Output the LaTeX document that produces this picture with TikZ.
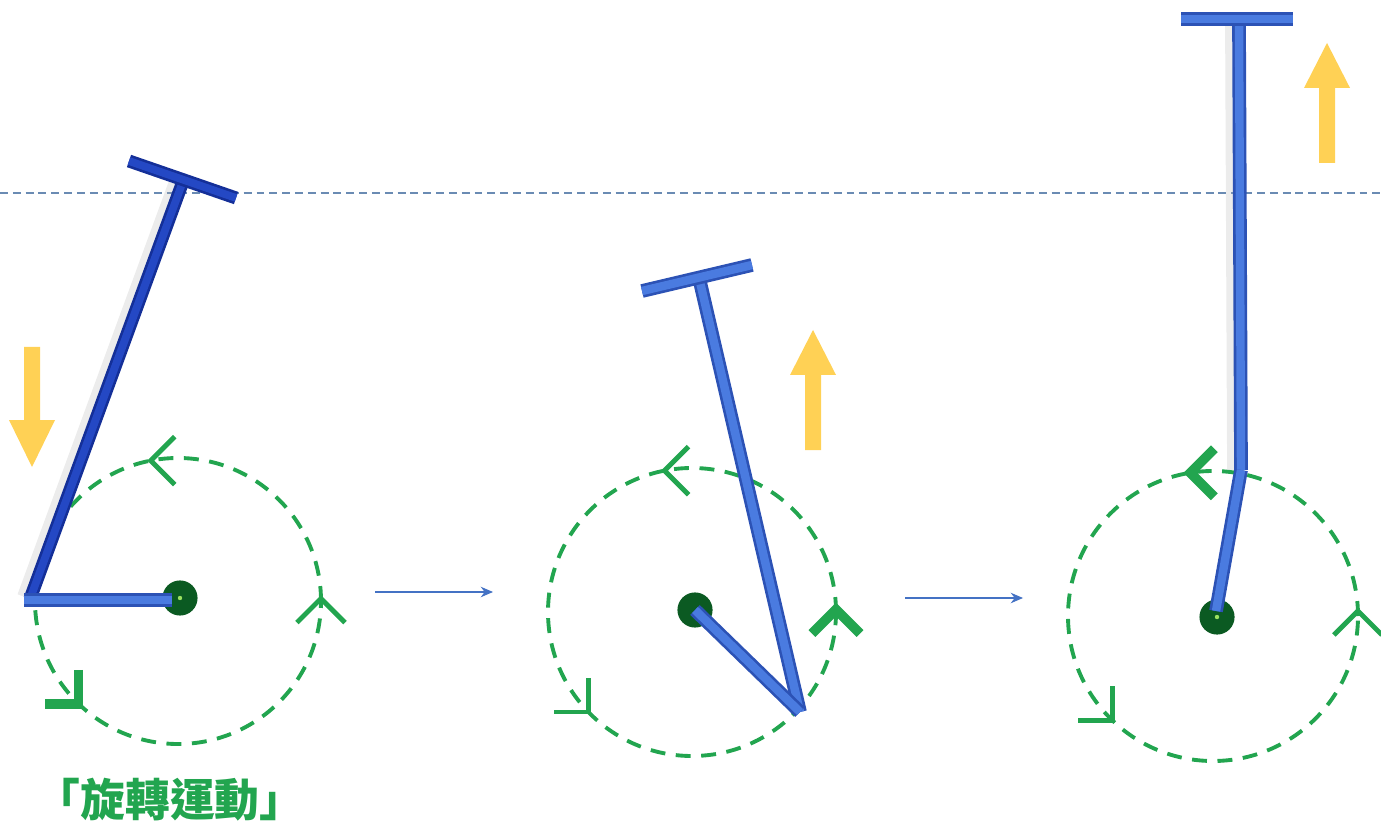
\documentclass[tikz,border=0pt]{standalone}
\usepackage{fontspec}
\newfontfamily\cjk{Noto Sans CJK TC}
\usetikzlibrary{calc,arrows.meta}
\definecolor{wgreen}{HTML}{22A54F}
\definecolor{pgreen}{HTML}{0B5A22}
\definecolor{dotgreen}{HTML}{9BE060}
\definecolor{ylw}{HTML}{FFD155}
\definecolor{barlight}{HTML}{4A7BE0}
\definecolor{baredge}{HTML}{2C52B5}
\definecolor{rodlight}{HTML}{2448C4}
\definecolor{rodedge}{HTML}{142F98}
\definecolor{connblue}{HTML}{4472C4}
\definecolor{hline}{HTML}{6A8BB3}
\tikzset{
  wheel/.style={draw=wgreen, line width=2.2pt, dash pattern=on 8.5pt off 6pt},
  chev/.style={draw=wgreen, line width=2.8pt, line join=miter, line cap=butt},
  chevbold/.style={draw=wgreen, line width=5.5pt, line join=miter, line cap=butt},
  pivot/.style={circle, fill=pgreen, inner sep=0pt, minimum size=20pt},
  cdot/.style={circle, fill=dotgreen, inner sep=0pt, minimum size=2.5pt},
  lightbar/.style={draw=baredge, double=barlight, line width=1.5pt, double distance=4.8pt},
  darkbar/.style={draw=rodedge, double=rodlight, line width=1.5pt, double distance=4.4pt},
  shadowbar/.style={draw=black!30, line width=9pt, opacity=0.25},
  conn/.style={draw=connblue, line width=0.8pt, -{Stealth[length=7pt,width=6pt]}},
  yarrow/.style={fill=ylw},
  guide/.style={draw=hline, line width=0.7pt, dash pattern=on 4.5pt off 2.8pt},
  label/.style={text=wgreen, font=\cjk\bfseries\fontsize{25.5}{28}\selectfont}
}
% chevron on circle: #1 center, #2 radius, #3 angle, #4 pointing direction, #5 style
\newcommand\chev[5]{%
  \draw[#5] ($(#1)+(#3:#2)+(#4+135:34)$) -- ($(#1)+(#3:#2)$) -- ($(#1)+(#3:#2)+(#4+225:34)$);}
% yellow block arrow: #1 x, #2 tail y, #3 head base y, #4 tip y
\newcommand\yarr[4]{%
  \fill[yarrow] (#1-8,#2) -- (#1-8,#3) -- (#1-23,#3) -- (#1,#4) -- (#1+23,#3) -- (#1+8,#3) -- (#1+8,#2) -- cycle;}
\begin{document}
\begin{tikzpicture}[x=0.02cm,y=0.02cm]
\useasboundingbox (0,0) rectangle (1381,822);
% guide line
\coordinate (gl) at (0,629);
\coordinate (gr) at (1381,629);
\draw[guide] (gl) -- (gr);

% ---------- figure 1 ----------
\coordinate (c1) at (178,221);
\draw[wheel] (c1) circle[radius=143];
\chev{c1}{143}{101}{180}{chev}
\chev{c1}{143}{1}{90}{chev}
\chev{c1}{143}{226}{315}{chevbold}
\node[pivot] (p1) at (180,224) {};
\node[cdot] at (p1) {};
\coordinate (a1) at (30,223);
\coordinate (b1) at (182,638);
\coordinate (t1l) at (129,661);
\coordinate (t1r) at (236,624);
\draw[shadowbar] ($(a1)+(-5,2)$) -- ($(b1)+(-5,2)$);
\draw[darkbar] (a1) -- (b1);
\draw[darkbar] (t1l) -- (t1r);
\draw[lightbar] (24,222) -- (172,222);
\yarr{32}{475}{402}{355}

% ---------- figure 2 ----------
\coordinate (c2) at (692,210);
\draw[wheel] (c2) circle[radius=144];
\chev{c2}{144}{101}{180}{chev}
\chev{c2}{144}{1}{90}{chevbold}
\chev{c2}{144}{224}{315}{chev}
\node[pivot] (p2) at (695,212) {};
\coordinate (k2) at (800,110);
\coordinate (b2) at (700,540);
\draw[lightbar] (k2) -- (b2);
\draw[lightbar] (p2.center) -- (k2);
\draw[lightbar] (642,531) -- (752,557);
\yarr{813}{372}{447}{492}

% ---------- figure 3 ----------
\coordinate (c3) at (1213,206);
\draw[wheel] (c3) circle[radius=145];
\chev{c3}{145}{99}{180}{chevbold}
\chev{c3}{145}{2}{90}{chev}
\chev{c3}{145}{226}{315}{chev}
\node[pivot] (p3) at (1217,205) {};
\node[cdot] at (p3) {};
\coordinate (k3) at (1241,352);
\coordinate (b3) at (1239,798);
\draw[shadowbar] ($(k3)+(-6,0)$) -- ($(b3)+(-6,0)$);
\draw[lightbar] (k3) -- (b3);
\draw[lightbar] ($(p3)+(-1,6)$) -- (k3);
\draw[lightbar] (1181,803) -- (1293,803);
\yarr{1327}{659}{734}{779}

% ---------- connectors ----------
\coordinate (s1) at (375,230);
\coordinate (e1) at (493,230);
\coordinate (s2) at (905,224);
\coordinate (e2) at (1023,224);
\draw[conn] (s1) -- (e1);
\draw[conn] (s2) -- (e2);

% ---------- label ----------
\node[label] (lab) at (170,22) {「旋轉運動」};
\end{tikzpicture}
\end{document}
